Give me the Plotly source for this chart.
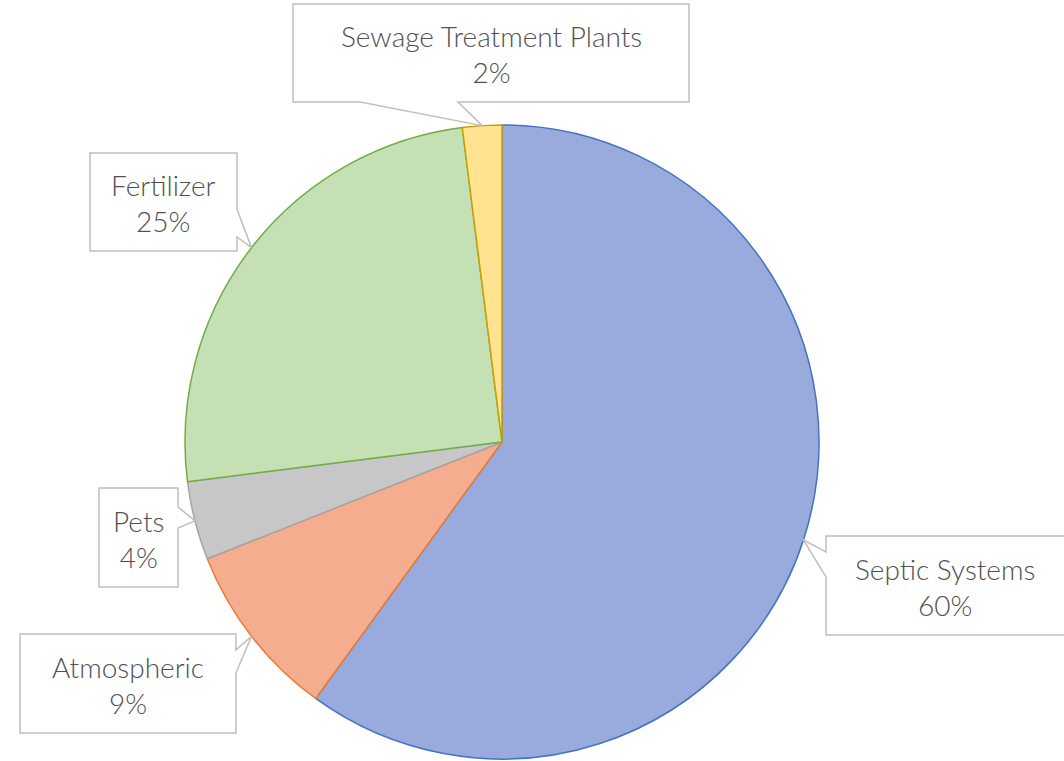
import math
import plotly.graph_objects as go

# ---- data ----
categories = ["Septic Systems", "Atmospheric", "Pets", "Fertilizer", "Sewage Treatment Plants"]
values = [60, 9, 4, 25, 2]
fill_colors = ["#98ABDC", "#F4AE8F", "#C7C7C7", "#C5E0B4", "#FFE391"]
edge_colors = ["#4472C4", "#ED7D31", "#A5A5A5", "#70AD47", "#C9A000"]

W, H = 1064, 761
# pie geometry in pixels (layout)
CX, CY, R = 502, 442, 317

# callout boxes (pixel layout): x0, x1, y0, y1, wedge side, wedge base positions
boxes = {
    "Sewage Treatment Plants": dict(x0=293, x1=689, y0=4, y1=102, side="bottom", b=(360, 458)),
    "Fertilizer": dict(x0=90, x1=237, y0=153, y1=251, side="right", b=(209, 237)),
    "Pets": dict(x0=99, x1=178, y0=488, y1=587, side="right", b=(507, 528)),
    "Atmospheric": dict(x0=20, x1=236, y0=634, y1=733, side="right", b=(650, 673)),
    "Septic Systems": dict(x0=826, x1=1075, y0=536, y1=635, side="left", b=(552, 577)),
}

def px(x):
    return x / W

def py(y):
    return (H - y) / H

fig = go.Figure()
fig.add_trace(go.Pie(
    labels=categories,
    values=values,
    sort=False,
    direction="clockwise",
    rotation=0,
    textinfo="none",
    hoverinfo="label+percent",
    marker=dict(colors=fill_colors, line=dict(color=edge_colors, width=1.5)),
    domain=dict(x=[px(CX - R), px(CX + R)], y=[py(CY + R), py(CY - R)]),
    showlegend=False,
))

total = sum(values)
cum = 0
shapes = []
annotations = []
for cat, v in zip(categories, values):
    mid = (cum + v / 2) / total * 2 * math.pi
    cum += v
    tx = CX + R * math.sin(mid)
    ty = CY - R * math.cos(mid)
    bx = boxes[cat]
    x0, x1, y0, y1 = bx["x0"], bx["x1"], bx["y0"], bx["y1"]
    a, b = bx["b"]
    if bx["side"] == "bottom":
        pts = [(x0, y0), (x1, y0), (x1, y1), (b, y1), (tx, ty), (a, y1), (x0, y1)]
    elif bx["side"] == "right":
        pts = [(x0, y0), (x1, y0), (x1, a), (tx, ty), (x1, b), (x1, y1), (x0, y1)]
    else:  # left
        pts = [(x0, y0), (x1, y0), (x1, y1), (x0, y1), (x0, b), (tx, ty), (x0, a)]
    path = "M " + " L ".join(f"{px(x):.5f},{py(y):.5f}" for x, y in pts) + " Z"
    shapes.append(dict(type="path", xref="paper", yref="paper", path=path,
                       fillcolor="white", line=dict(color="#BFBFBF", width=1.5), layer="above"))
    cx_text = (x0 + x1) / 2 if cat != "Septic Systems" else 945
    annotations.append(dict(
        x=px(cx_text), y=py((y0 + y1) / 2 + 1), xref="paper", yref="paper",
        text=f"{cat}<br>{round(v / total * 100)}%", showarrow=False,
        xanchor="center", yanchor="middle", align="center",
        font=dict(family="Lato, 'Open Sans', sans-serif", size=28, color="#505050", weight=300),
    ))

fig.update_layout(
    width=W, height=H,
    margin=dict(l=0, r=0, t=0, b=0),
    paper_bgcolor="white", plot_bgcolor="white",
    shapes=shapes, annotations=annotations,
)
fig.write_html("out.html", config={"displayModeBar": False},
               post_script="document.body.style.margin='0';document.body.style.overflow='hidden';")
